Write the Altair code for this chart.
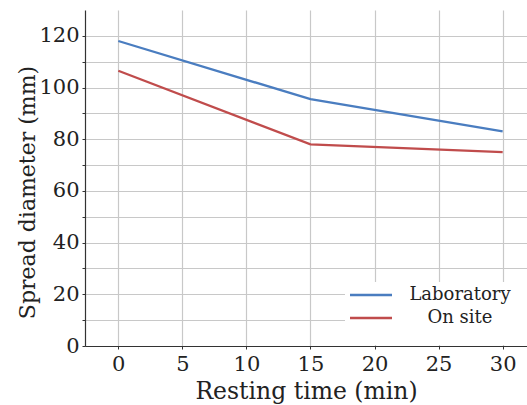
import altair as alt
import pandas as pd

# Resting time (min) and spread diameter (mm) for the two test series
times = [0, 15, 30]
laboratory = [118.0, 95.5, 83.0]
on_site = [106.5, 78.0, 75.0]
series_names = ["Laboratory", "On site"]
series_colors = ["#4a7dc0", "#c04c4c"]

rows = []
for name, vals in zip(series_names, [laboratory, on_site]):
    for t, v in zip(times, vals):
        rows.append({"time": t, "diameter": v, "series": name})
df = pd.DataFrame(rows)
legend_df = pd.DataFrame({"series": series_names})

FONT = "DejaVu Serif"
color_scale = alt.Scale(domain=series_names, range=series_colors)

lines = (
    alt.Chart(df)
    .mark_line(strokeWidth=2.3, clip=True)
    .encode(
        x=alt.X(
            "time:Q",
            scale=alt.Scale(domain=[-2.6, 31.9], nice=False, zero=False),
            axis=alt.Axis(
                title="Resting time (min)",
                values=[0, 5, 10, 15, 20, 25, 30],
                labelFontSize=21,
                titleFontSize=23.5,
                titleY=45,
                titleBaseline="middle",
                labelPadding=4,
                tickSize=3,
            ),
        ),
        y=alt.Y(
            "diameter:Q",
            scale=alt.Scale(domain=[0, 130], nice=False),
            axis=alt.Axis(
                title="Spread diameter (mm)",
                values=list(range(0, 130, 10)),
                labelExpr="datum.value % 20 == 0 ? datum.label : ''",
                labelFontSize=21,
                titleFontSize=22,
                titleAngle=270,
                titleAlign="center",
                titleBaseline="middle",
                titleX=-58,
                titleY=182,
                labelPadding=3,
                tickSize=3,
            ),
        ),
        color=alt.Color("series:N", scale=color_scale, legend=None),
    )
)

# Legend box in the lower right corner of the plot
legend_bg = alt.Chart(legend_df).mark_rect(color="white").encode(
    x=alt.value(260), x2=alt.value(442), y=alt.value(272), y2=alt.value(335)
)

legend_layers = [legend_bg]
for i, name in enumerate(series_names):
    row_y = 285 + 23 * i
    sub = alt.Chart(legend_df).transform_filter(alt.datum.series == name)
    legend_layers.append(
        sub.mark_rule(strokeWidth=2.3).encode(
            x=alt.value(265), x2=alt.value(307), y=alt.value(row_y),
            color=alt.Color("series:N", scale=color_scale, legend=None),
        )
    )
    legend_layers.append(
        sub.mark_text(align="center", baseline="middle", fontSize=18, font=FONT, color="#222222").encode(
            x=alt.value(375), y=alt.value(row_y), text="series:N"
        )
    )

chart = (
    alt.layer(lines, *legend_layers)
    .properties(width=442, height=336)
    .configure(font=FONT, autosize=alt.AutoSizeParams(type="none"), padding={"left": 85, "top": 10, "right": 0, "bottom": 59})
    .configure_view(stroke=None)
    .configure_axis(
        labelFont=FONT,
        titleFont=FONT,
        labelColor="#222222",
        titleColor="#222222",
        titleFontWeight="normal",
        gridColor="#c8c8c8",
        gridWidth=1.2,
        domainColor="#333333",
        domainWidth=1.2,
        tickColor="#333333",
    )
)

chart.save("out.html", embed_options={"renderer": "svg", "actions": False})
